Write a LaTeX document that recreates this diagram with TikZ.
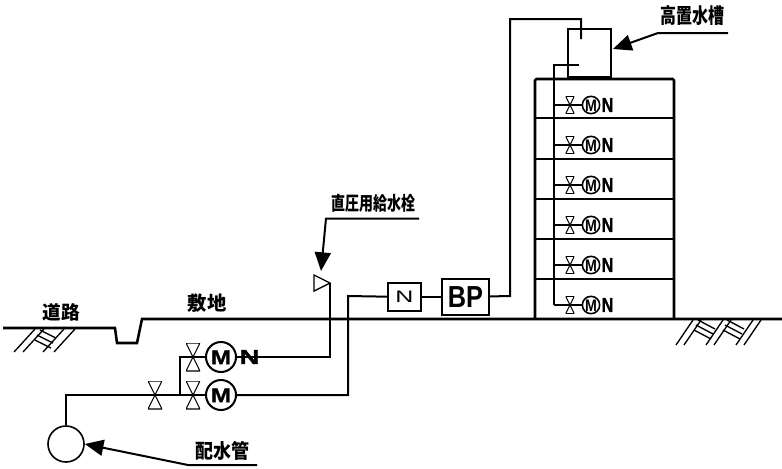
\documentclass[tikz,border=0pt]{standalone}
\usepackage{fontspec}
\setmainfont{Liberation Sans}
\newfontfamily\jpfont{Noto Sans CJK JP}
\newfontfamily\heavyfont{Liberation Sans}[UprightFont=* Bold, FakeBold=1.2]
\usepackage{tikz}
\usetikzlibrary{arrows.meta, positioning}

\newcommand{\motorletter}[1]{\raisebox{-.36em}[0pt][0pt]{\makebox[0pt]{\scalebox{#1}[1]{M}}}}

\tikzset{
  pipe/.style={line width=1.5pt},
  wall/.style={line width=1.9pt},
  hatch/.style={line width=1pt},
  leader/.style={line width=1.5pt, -{Triangle[length=14pt,width=12pt]}},
  label jp/.style={font=\jpfont\bfseries\fontsize{#1}{#1}\selectfont, inner sep=0pt},
  valve/.style={minimum width=#1, minimum height=2*#1, inner sep=0pt, outer sep=0pt,
    path picture={\draw[line width=.8pt] (path picture bounding box.south west)
      -- (path picture bounding box.north east) -- (path picture bounding box.north west)
      -- (path picture bounding box.south east) -- cycle;}},
  motor/.style={circle, draw, line width=1.5pt, fill=white, minimum size=22.5pt, inner sep=0pt,
    font=\heavyfont\fontsize{15}{15}\selectfont},
  small motor/.style={circle, draw, line width=1.2pt, fill=white, minimum size=13pt, inner sep=0pt,
    font=\bfseries\fontsize{12.5}{12.5}\selectfont},
  check/.style={font=\heavyfont\fontsize{15}{15}\selectfont, inner sep=0pt},
  box/.style={draw, line width=1.3pt, inner sep=0pt, fill=white},
}

\begin{document}
\begin{tikzpicture}[x=0.75pt, y=-0.75pt]
  \useasboundingbox (0,0) rectangle (782,468);

  % ground
  \coordinate (road-a) at (3,328);
  \coordinate (road-b) at (115,328);
  \coordinate (ditch-a) at (117,343);
  \coordinate (ditch-b) at (137,343);
  \coordinate (site-a) at (142,319);
  \coordinate (site-b) at (782,319);
  \draw [wall] (road-a) -- (road-b) -- (ditch-a) -- (ditch-b) -- (site-a) -- (site-b);

  \foreach \x in {14,23,43,54}
  \draw [hatch] (\x,352) -- (\x+21,329);
  \foreach \x/\y in {40/330,37/335,35/340}
  \draw [hatch] (\x,\y) -- (\x+16,\y+8);

  \foreach \x in {676,684,706,714,736,744}
  \draw [hatch] (\x,345) -- (\x+17,320);
  \foreach \x/\y in {698/320,696/325,694/330,727/320,725/325,723/330}
  \draw [hatch] (\x,\y) -- (\x+17,\y+9);

  % building
  \draw [wall, rounded corners=1pt] (535,319) -- (535,79) -- (674,79) -- (674,319);
  \foreach \y in {118,159,199,239,279}
  \draw [wall] (535,\y) -- (674,\y);

  % tank
  \node [box, wall, minimum width=32pt, minimum height=36pt, fill=none] (tank) at (589.5,53) {};
  \coordinate (tank-in) at (581,39);
  \coordinate (tank-out) at (579,65);
  \coordinate (riser-top) at (554,65);
  \coordinate (riser-bottom) at (554,305);
  \draw [pipe] (tank-out) -- (riser-top) -- (riser-bottom);

  % floors
  \foreach \y [count=\i] in {105,145,185,225,265,305} {
    \coordinate (riser-\i) at (554,\y);
    \node [valve=6.5pt] (valve-\i) at (570,\y) {};
    \node [small motor] (motor-\i) at (591,\y) {\motorletter{.85}};
    \node [check] (check-\i) at (607.5,\y) {\scalebox{.8}[1]{N}};
    \draw [pipe] (riser-\i) -- (valve-\i.center) -- (motor-\i);
  }

  % street side
  \node [circle, draw, line width=1.2pt, minimum width=27pt, inner sep=0pt] (main) at (66,444) {};
  \node [valve=10.5pt] (valve-a) at (155,395) {};
  \node [valve=10.5pt] (valve-b) at (193,395) {};
  \node [valve=10.5pt] (valve-c) at (193,357) {};
  \node [motor] (motor-b) at (221,395) {\motorletter{1.2}};
  \node [motor] (motor-c) at (221,357) {\motorletter{1.2}};
  \coordinate (pipe-a) at (66,395);
  \coordinate (pipe-b) at (180,395);
  \coordinate (pipe-c) at (180,357);
  \coordinate (pipe-d) at (330,357);
  \coordinate (pipe-e) at (330,283);
  \coordinate (pipe-f) at (348,395);
  \coordinate (pipe-g) at (348,296);
  \coordinate (pipe-h) at (510,296);
  \coordinate (pipe-i) at (510,19);
  \coordinate (pipe-j) at (581,19);
  \draw [pipe] (main) -- (pipe-a) -- (valve-a.center) -- (valve-b.center) -- (motor-b);
  \draw [pipe] (pipe-b) -- (pipe-c) -- (valve-c.center) -- (motor-c);
  \draw [pipe] (motor-c) -- (pipe-d) -- (pipe-e);
  \node [check] (check-c) at (249.5,357) {\scalebox{1.4}[1]{N}};
  \draw [line width=1pt, fill=white] (314,275) -- (330,283) -- (314,291) -- cycle;

  % booster line
  \node [box, minimum width=25pt, minimum height=21pt, font=\fontsize{12.5}{12.5}\selectfont] (meter) at (404.5,297) {\scalebox{1.5}[1]{N}};
  \node [box, line width=1.5pt, minimum width=35pt, minimum height=27pt,
    font=\bfseries\fontsize{19}{19}\selectfont] (booster) at (465.5,297) {\scalebox{1}[1.2]{BP}};
  \draw [pipe] (motor-b) -- (pipe-f) -- (pipe-g) -- (meter);
  \draw [pipe] (meter) -- (booster);
  \draw [pipe] (booster) -- (pipe-h) -- (pipe-i) -- (pipe-j) -- (tank-in);

  % labels
  \node [label jp=14] (road) at (61,312) {道路};
  \node [label jp=14.5] (site) at (207,303) {敷地};
  \node [label jp=13.5] (main-label) at (222,451) {\scalebox{1}[1.1]{配水管}};
  \node [label jp=10.5] (hydrant-label) at (373,203) {\scalebox{1}[1.35]{直圧用給水栓}};
  \node [label jp=12] (tank-label) at (692,16) {\scalebox{1}[1.3]{高置水槽}};

  \coordinate (main-a) at (257,465);
  \coordinate (main-b) at (188,465);
  \coordinate (hydrant-a) at (419,218.5);
  \coordinate (hydrant-b) at (326,218.5);
  \coordinate (tank-a) at (728,33);
  \coordinate (tank-b) at (658,33);
  \draw [leader] (main-a) -- (main-b) -- (main.east);
  \draw [leader] (hydrant-a) -- (hydrant-b) -- (321,271);
  \draw [leader] (tank-a) -- (tank-b) -- (613,49);
\end{tikzpicture}
\end{document}
